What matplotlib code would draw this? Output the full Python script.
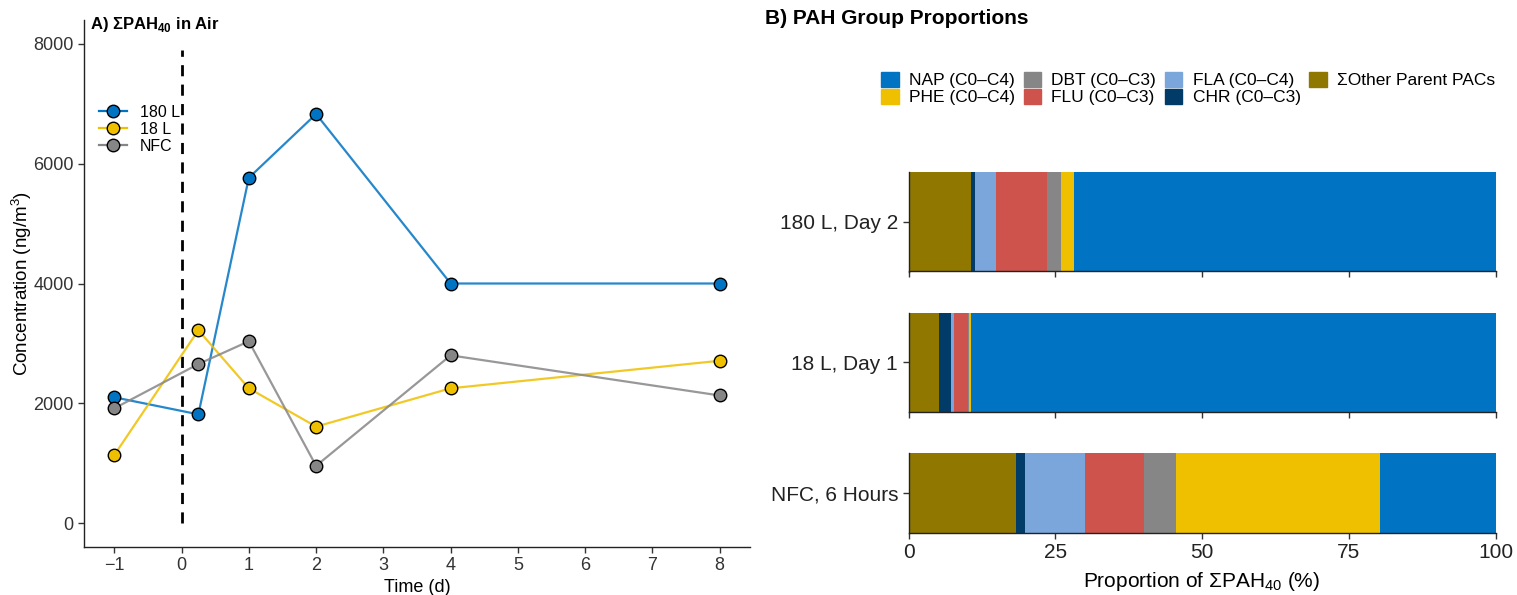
import matplotlib
matplotlib.use('Agg')
from matplotlib import pyplot as plt
from matplotlib.patches import Patch
from matplotlib.lines import Line2D

plt.rcParams['font.family'] = ['Liberation Sans', 'DejaVu Sans']
plt.rcParams['mathtext.fontset'] = 'custom'
plt.rcParams['mathtext.rm'] = 'Liberation Sans'
plt.rcParams['mathtext.bf'] = 'Liberation Sans:bold'

# ---- panel A: total PAH in air over time ----
days = [-1, 0.25, 1, 2, 4, 8]
conc_180 = [2100, 1815, 5765, 6830, 4000, 4000]
conc_18 = [1135, 3220, 2250, 1610, 2250, 2710]
conc_nfc = [1915, 2655, 3035, 955, 2800, 2130]
series_names = ['180 L', '18 L', 'NFC']
series_colors = ['#0073C2', '#EFC000', '#868686']
x_ticks = [-1, 0, 1, 2, 3, 4, 5, 6, 7, 8]
y_ticks = [0, 2000, 4000, 6000, 8000]

# ---- panel B: group proportions, stacked left to right ----
groups = ['180 L, Day 2', '18 L, Day 1', 'NFC, 6 Hours']
other = [10.6, 5.2, 18.3]
chr_c = [0.7, 2.0, 1.6]
fla = [3.6, 0.6, 10.2]
flu = [8.7, 2.4, 10.1]
dbt = [2.3, 0.1, 5.3]
phe = [2.3, 0.3, 34.8]
nap = [71.8, 89.4, 19.7]
prop_ticks = [0, 25, 50, 75, 100]

W, H = 1517, 595
fig = plt.figure(figsize=(W / 100, H / 100), dpi=100)


def box(x0, y0, x1, y1):
    return [x0 / W, 1 - y1 / H, (x1 - x0) / W, (y1 - y0) / H]


def style_axes(ax, lw=1.0):
    for s in ['top', 'right']:
        ax.spines[s].set_visible(False)
    for s in ['left', 'bottom']:
        ax.spines[s].set_linewidth(lw)
        ax.spines[s].set_color('#222222')
        ax.spines[s].set_zorder(5)
    ax.tick_params(length=4, width=1.0, color='#333333', labelcolor='#333333')


ax = fig.add_axes(box(84, 20, 750, 547))
style_axes(ax)
ax.axvline(0, ymin=400 / 8800, ymax=8300 / 8800, color='black', lw=2,
           dashes=(4, 3), zorder=1)
for vals, name, col in zip([conc_180, conc_18, conc_nfc], series_names, series_colors):
    ax.plot(days, vals, color=col, lw=1.6, alpha=0.85, zorder=2)
    ax.plot(days, vals, 'o', ms=9, mfc=col, mec='black', mew=1.0, zorder=3)
ax.set_xlim(-1.45, 8.45)
ax.set_ylim(-400, 8400)
ax.set_xticks(x_ticks)
ax.set_xticklabels(['\u22121'] + [str(t) for t in x_ticks[1:]])
ax.set_yticks(y_ticks)
ax.tick_params(labelsize=13)
ax.set_xlabel('Time (d)', fontsize=13, labelpad=3)
ax.set_ylabel('Concentration (ng/m$^3$)', fontsize=13.5, labelpad=-1)

handles = [Line2D([0], [0], color=c, lw=1.6, marker='o', ms=9, mfc=c,
                  mec='black', mew=1.0) for c in series_colors]
ax.legend(handles, series_names, loc='upper left', bbox_to_anchor=(0.005, 0.86),
          frameon=False, fontsize=11.5, handlelength=1.8, handletextpad=0.8,
          labelspacing=0.12, borderpad=0.2)
fig.text(90 / W, 1 - 25 / H, r'A) ΣPAH$_{\mathbf{40}}$ in Air', fontsize=12,
         fontweight='bold', va='center', ha='left')

# ---- panel B facets ----
parts = [other, chr_c, fla, flu, dbt, phe, nap]
part_colors = ['#8F7700', '#003C67', '#7AA6DC', '#CD534C', '#868686', '#EFC000', '#0073C2']
facet_rows = [(172, 271.5), (312.7, 411.7), (453.3, 532.5)]
for i, (g, (y0, y1)) in enumerate(zip(groups, facet_rows)):
    fax = fig.add_axes(box(908.5, y0, 1495.5, y1))
    style_axes(fax)
    left = 0
    for vals, col in zip(parts, part_colors):
        fax.barh([0], [vals[i]], left=[left], height=1.0, color=col, lw=0)
        left += vals[i]
    fax.set_xlim(0, 100)
    fax.set_ylim(-0.5, 0.5)
    fax.set_yticks([0])
    fax.set_yticklabels([g], fontsize=15, color='#222222')
    fax.set_xticks(prop_ticks)
    if i < 2:
        fax.set_xticklabels([])
    else:
        fax.set_xticklabels([str(t) for t in prop_ticks], fontsize=15, color='#222222')
        fax.set_xlabel('Proportion of ΣPAH$_{40}$ (%)', fontsize=15, labelpad=6)

legend_names = ['NAP (C0\u2013C4)', 'PHE (C0\u2013C4)', 'DBT (C0\u2013C3)', 'FLU (C0\u2013C3)',
                'FLA (C0\u2013C4)', 'CHR (C0\u2013C3)', 'ΣOther Parent PACs']
legend_colors = ['#0073C2', '#EFC000', '#868686', '#CD534C', '#7AA6DC', '#003C67', '#8F7700']
fig.legend([Patch(color=c) for c in legend_colors], legend_names, ncol=4,
           loc='upper left', bbox_to_anchor=(869 / W, 1 - 60 / H), frameon=False,
           fontsize=12.5, handlelength=1.0, handleheight=0.9, handletextpad=0.6,
           columnspacing=0.5, labelspacing=0.05, borderpad=0.2)
fig.text(765 / W, 1 - 18 / H, 'B) PAH Group Proportions', fontsize=15,
         fontweight='bold', va='center', ha='left')

fig.savefig('out.png', dpi=100)
